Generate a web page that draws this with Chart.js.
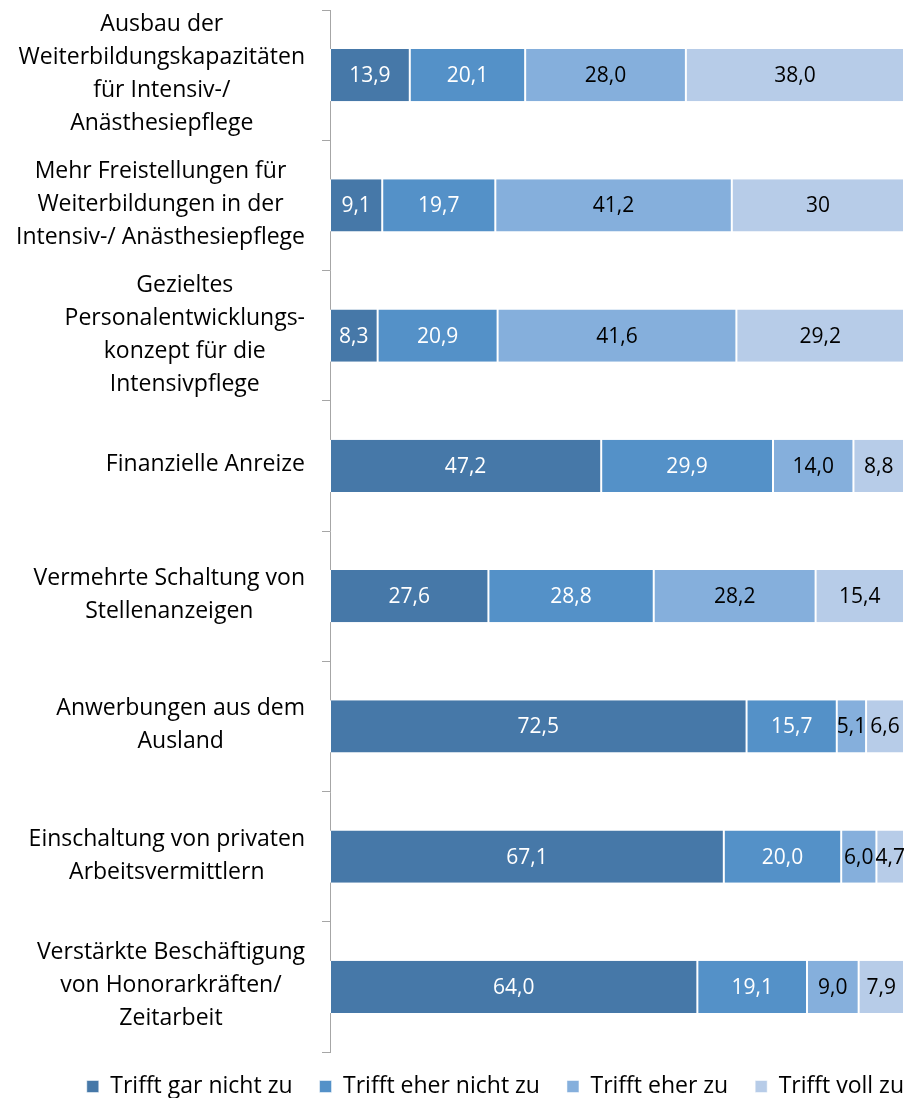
<!DOCTYPE html>
<html><head><meta charset="utf-8">
<script src="https://cdn.jsdelivr.net/npm/chart.js@4/dist/chart.umd.min.js"></script>
<style>html,body{margin:0;padding:0;background:#fff}#wrap{width:913px;height:1102px;position:relative}</style>
</head><body><div id="wrap"><canvas id="c"></canvas></div>
<script>
const categories = [
  ["Ausbau der", "Weiterbildungskapazitäten", "für Intensiv-/", "Anästhesiepflege"],
  ["Mehr Freistellungen für", "Weiterbildungen in der", "Intensiv-/ Anästhesiepflege"],
  ["Gezieltes", "Personalentwicklungs-", "konzept für die", "Intensivpflege"],
  ["Finanzielle Anreize"],
  ["Vermehrte Schaltung von", "Stellenanzeigen"],
  ["Anwerbungen aus dem", "Ausland"],
  ["Einschaltung von privaten", "Arbeitsvermittlern"],
  ["Verstärkte Beschäftigung", "von Honorarkräften/", "Zeitarbeit"]
];
const seriesNames = ["Trifft gar nicht zu", "Trifft eher nicht zu", "Trifft eher zu", "Trifft voll zu"];
const garNichtZu = [13.9, 9.1, 8.3, 47.2, 27.6, 72.5, 67.1, 64.0];
const eherNichtZu = [20.1, 19.7, 20.9, 29.9, 28.8, 15.7, 20.0, 19.1];
const eherZu = [28.0, 41.2, 41.6, 14.0, 28.2, 5.1, 6.0, 9.0];
const vollZu = [38.0, 30, 29.2, 8.8, 15.4, 6.6, 4.7, 7.9];
const vollZuDecimals = [1, 0, 1, 1, 1, 1, 1, 1];

const colors = ["#4678A8", "#5491C8", "#85AFDC", "#B7CCE8"];
const labelColors = ["#ffffff", "#ffffff", "#000000", "#000000"];
const FONT = '"Open Sans", sans-serif';

function fmt(v, d) { return v.toFixed(d).replace('.', ','); }

const seriesValues = [garNichtZu, eherNichtZu, eherZu, vollZu];
// 100% stacked: each row is shown as share of its total
const rowTotals = categories.map((_, i) => seriesValues.reduce((s, arr) => s + arr[i], 0));
const datasets = seriesValues.map((vals, si) => ({
  label: seriesNames[si],
  data: vals.map((v, i) => v / rowTotals[i] * 100),
  backgroundColor: colors[si],
  borderColor: '#ffffff',
  borderWidth: {left: 1, right: 1, top: 0, bottom: 0},
  borderSkipped: false,
  labelColor: labelColors[si],
  labelText: vals.map((v, i) => fmt(v, si === 3 ? vollZuDecimals[i] : 1)),
  barPercentage: 0.4,
  categoryPercentage: 1.0
}));

const barLabels = {
  id: 'barLabels',
  afterDatasetsDraw(chart) {
    const ctx = chart.ctx;
    ctx.save();
    ctx.font = '21px ' + FONT;
    ctx.textAlign = 'center';
    ctx.textBaseline = 'middle';
    chart.data.datasets.forEach((ds, di) => {
      const meta = chart.getDatasetMeta(di);
      meta.data.forEach((bar, i) => {
        const p = bar.getProps(['x', 'base', 'y'], true);
        ctx.fillStyle = ds.labelColor;
        ctx.fillText(ds.labelText[i], (p.x + p.base) / 2, p.y + 1);
      });
    });
    ctx.restore();
  }
};

const catLabels = {
  id: 'catLabels',
  afterDraw(chart) {
    const sc = chart.scales.y;
    const ctx = chart.ctx;
    ctx.save();
    ctx.font = '23px ' + FONT;
    ctx.fillStyle = '#000000';
    ctx.textAlign = 'center';
    ctx.textBaseline = 'middle';
    const lh = 33;
    categories.forEach((lines, i) => {
      const w = Math.max(...lines.map(l => ctx.measureText(l).width));
      const cx = sc.right - 25 - w / 2;
      const yc = sc.getPixelForValue(i) - 1;
      lines.forEach((l, k) => {
        ctx.fillText(l, cx, yc + (k - (lines.length - 1) / 2) * lh);
      });
    });
    ctx.restore();
  }
};

const legendFit = {
  id: 'legendFit',
  afterInit(chart) {
    const lg = chart.legend;
    if (!lg) return;
    const orig = lg.fit;
    lg.fit = function () { orig.call(this); this.height = 50; };
  },
  afterLayout(chart) {
    const lg = chart.legend;
    if (!lg) return;
    lg.top -= 4; lg.bottom -= 4;
    lg.left += 27; lg.right += 27;
  }
};

new Chart(document.getElementById('c'), {
  type: 'bar',
  data: { labels: categories.map(l => l.join(' ')), datasets },
  options: {
    indexAxis: 'y',
    responsive: true,
    maintainAspectRatio: false,
    animation: false,
    layout: { padding: { top: 10, right: 9, left: 0, bottom: 0 } },
    scales: {
      x: { stacked: true, min: 0, max: 100, display: false },
      y: {
        stacked: true,
        grid: { drawOnChartArea: false, drawTicks: true, tickLength: 8, color: '#a6a6a6', offset: true },
        border: { color: '#a6a6a6', width: 1 },
        ticks: { display: false },
        afterFit(s) { s.width = 330; }
      }
    },
    plugins: {
      legend: {
        position: 'bottom',
        align: 'end',
        labels: {
          boxWidth: 12, boxHeight: 12, padding: 27,
          color: '#000000',
          font: { family: FONT, size: 23 }
        }
      },
      tooltip: { enabled: false }
    }
  },
  plugins: [barLabels, catLabels, legendFit]
});
</script></body></html>
